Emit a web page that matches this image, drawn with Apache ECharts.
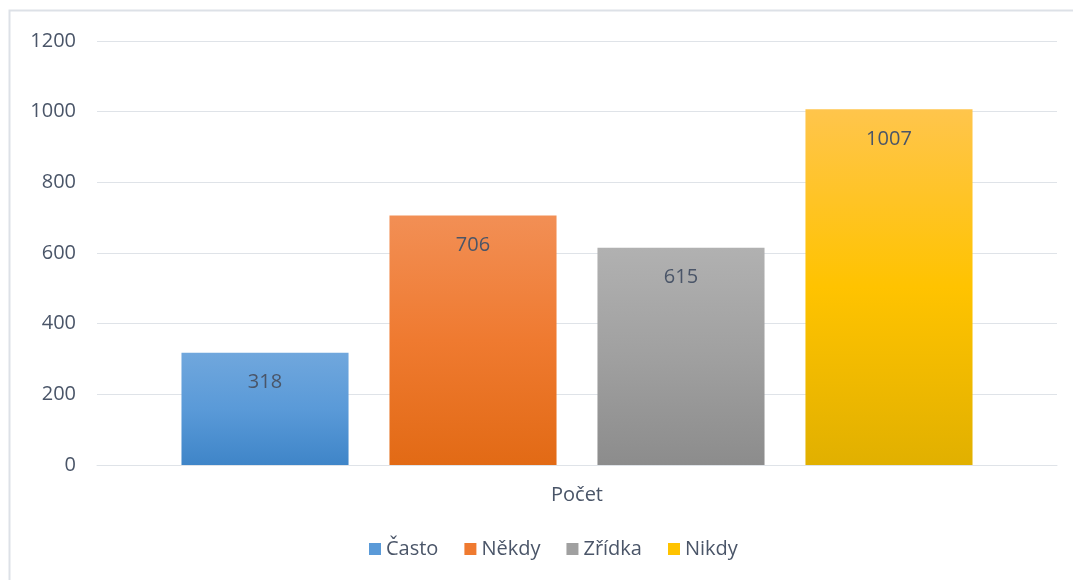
<!DOCTYPE html>
<html lang="cs">
<head>
    <meta charset="UTF-8">
    <title>Počet</title>
    <script src="https://cdn.jsdelivr.net/npm/echarts@6/dist/echarts.min.js"></script>
    <style>
        html, body { margin: 0; padding: 0; background: #fff; }
        #chart { width: 1073px; height: 580px; }
    </style>
</head>
<body>
<div id="chart"></div>
<script>
    // data
    var categories = ['Počet'];
    var seriesNames = ['Často', 'Někdy', 'Zřídka', 'Nikdy'];
    var seriesValues = [318, 706, 615, 1007];
    var yTicks = [0, 200, 400, 600, 800, 1000, 1200];

    // gradient stops per series (top, middle, bottom)
    var palette = [
        ['#70a7dd', '#5a9ad8', '#3f85c8'],
        ['#f28f55', '#ef7a30', '#e26a15'],
        ['#b1b1b1', '#a0a0a0', '#8c8c8c'],
        ['#ffc54c', '#ffc300', '#e1b000']
    ];
    var textColor = '#4a5568';

    function grad(c) {
        return new echarts.graphic.LinearGradient(0, 0, 0, 1, [
            {offset: 0, color: c[0]},
            {offset: 0.5, color: c[1]},
            {offset: 1, color: c[2]}
        ]);
    }

    var series = seriesNames.map(function (name, i) {
        return {
            name: name,
            type: 'bar',
            data: [seriesValues[i]],
            barGap: '24.5%',
            barCategoryGap: '17.6%',
            itemStyle: { color: grad(palette[i]) },
            label: {
                show: true,
                position: 'insideTop',
                distance: 20,
                color: textColor,
                fontSize: 20,
                fontFamily: 'Open Sans'
            }
        };
    });

    var chart = echarts.init(document.getElementById('chart'));
    chart.setOption({
        animation: false,
        backgroundColor: '#fff',
        color: palette.map(function (c) { return c[1]; }),
        textStyle: { fontFamily: 'Open Sans', color: textColor },
        graphic: [{
            type: 'rect',
            shape: { x: 9.5, y: 10.5, width: 1100, height: 620 },
            style: { fill: 'none', stroke: '#dde1e7', lineWidth: 2 },
            silent: true
        }],
        grid: { left: 97, right: 16, top: 41, bottom: 115 },
        legend: {
            bottom: 16,
            left: 364,
            icon: 'rect',
            itemWidth: 12,
            itemHeight: 12,
            itemGap: 26,
            textStyle: { fontSize: 20, color: textColor, fontFamily: 'Open Sans' },
            data: seriesNames.map(function (n, i) {
                return { name: n, itemStyle: { color: palette[i][1] } };
            })
        },
        xAxis: {
            type: 'category',
            data: categories,
            axisTick: { show: false },
            axisLine: { lineStyle: { color: '#dfe3e8', width: 1 } },
            axisLabel: { margin: 20, fontSize: 20, color: textColor }
        },
        yAxis: {
            type: 'value',
            min: yTicks[0],
            max: yTicks[yTicks.length - 1],
            interval: 200,
            axisLine: { show: false },
            axisTick: { show: false },
            axisLabel: {
                margin: 21, fontSize: 20, color: textColor,
                formatter: function (v) { return String(v); }
            },
            splitLine: { lineStyle: { color: '#dfe3e8', width: 1 } }
        },
        series: series
    });
</script>
</body>
</html>
